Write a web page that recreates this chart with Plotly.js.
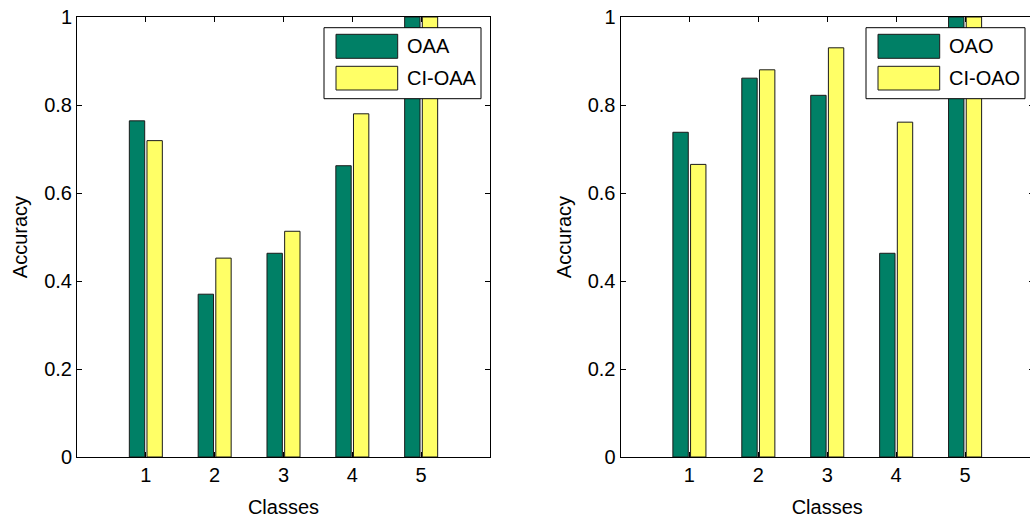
<!DOCTYPE html>
<html>
<head>
<meta charset="utf-8">
<script src="https://cdn.plot.ly/plotly-3.0.1.min.js"></script>
<style>
html, body { margin: 0; padding: 0; overflow: hidden; background: #fff; }
#chart { width: 1040px; height: 518px; }
</style>
</head>
<body>
<div id="chart"></div>
<script>
// ---- data ----
const classes = [1, 2, 3, 4, 5];
const tickLabelsX = ['1', '2', '3', '4', '5'];
const oaa   = [0.764, 0.370, 0.463, 0.662, 1.0];
const ciOaa = [0.719, 0.452, 0.513, 0.780, 1.0];
const oao   = [0.738, 0.861, 0.822, 0.463, 1.0];
const ciOao = [0.665, 0.880, 0.930, 0.761, 1.0];
const namesLeft  = ['OAA', 'CI-OAA'];
const namesRight = ['OAO', 'CI-OAO'];
const xTitle = 'Classes';
const yTitle = 'Accuracy';

// ---- style ----
const W = 1040, H = 518;
const GREEN = '#008066', YELLOW = '#FFFF66';
const FONT = 'Liberation Sans, Arial, Helvetica, sans-serif';
const px = x => x / W;
const py = y => 1 - y / H;

function barTrace(y, name, color, xa, ya) {
  return {
    type: 'bar', x: classes, y: y, name: name, xaxis: xa, yaxis: ya,
    marker: { color: color, line: { color: '#1a1a1a', width: 1 } },
    showlegend: false, hoverinfo: 'x+y+name'
  };
}

const data = [
  barTrace(oaa, namesLeft[0], GREEN, 'x', 'y'),
  barTrace(ciOaa, namesLeft[1], YELLOW, 'x', 'y'),
  barTrace(oao, namesRight[0], GREEN, 'x2', 'y2'),
  barTrace(ciOao, namesRight[1], YELLOW, 'x2', 'y2')
];

function xAxis(domain, anchor) {
  return {
    domain: domain, anchor: anchor, range: [0, 6],
    tickmode: 'array', tickvals: classes, ticktext: tickLabelsX,
    ticks: 'inside', ticklen: 5, tickcolor: '#000', mirror: 'ticks',
    showline: true, linecolor: '#000', linewidth: 1,
    showgrid: false, zeroline: false, fixedrange: true,
    tickfont: { family: FONT, size: 20, color: '#000' },
    title: { text: xTitle, font: { family: FONT, size: 20, color: '#000' } }
  };
}
function yAxis(domain, anchor) {
  return {
    domain: domain, anchor: anchor, range: [0, 1],
    tickmode: 'linear', tick0: 0, dtick: 0.2,
    ticks: 'inside', ticklen: 5, tickcolor: '#000', mirror: 'ticks',
    showline: true, linecolor: '#000', linewidth: 1,
    showgrid: false, zeroline: false, fixedrange: true,
    tickfont: { family: FONT, size: 20, color: '#000' },
    title: { text: yTitle, font: { family: FONT, size: 20, color: '#000' } }
  };
}

const yDom = [py(457), py(17)];

// legend drawn as shapes + annotations (pixel layout)
function legend(boxL, boxR, names) {
  const shapes = [
    { type: 'rect', xref: 'paper', yref: 'paper', x0: px(boxL), x1: px(boxR), y0: py(98.7), y1: py(27.7),
      fillcolor: '#fff', line: { color: '#000', width: 1 } },
    { type: 'rect', xref: 'paper', yref: 'paper', x0: px(boxL + 12), x1: px(boxL + 73.7), y0: py(58.3), y1: py(34.3),
      fillcolor: GREEN, line: { color: '#1a1a1a', width: 1 } },
    { type: 'rect', xref: 'paper', yref: 'paper', x0: px(boxL + 12), x1: px(boxL + 73.7), y0: py(90), y1: py(66.3),
      fillcolor: YELLOW, line: { color: '#1a1a1a', width: 1 } }
  ];
  const ann = [
    { xref: 'paper', yref: 'paper', x: px(boxL + 81), y: py(46.3), text: names[0], showarrow: false,
      xanchor: 'left', yanchor: 'middle', font: { family: FONT, size: 20, color: '#000' } },
    { xref: 'paper', yref: 'paper', x: px(boxL + 81), y: py(78.2), text: names[1], showarrow: false,
      xanchor: 'left', yanchor: 'middle', font: { family: FONT, size: 20, color: '#000' } }
  ];
  return { shapes, ann };
}
const lg1 = legend(324, 481, namesLeft);
const lg2 = legend(866, 1025, namesRight);

const layout = {
  width: W, height: H,
  margin: { l: 0, r: 0, t: 0, b: 0 },
  paper_bgcolor: '#fff', plot_bgcolor: '#fff',
  barmode: 'group', bargap: 0.487, bargroupgap: 0.13,
  font: { family: FONT, size: 20, color: '#000' },
  xaxis: xAxis([px(77), px(490)], 'y'),
  yaxis: yAxis(yDom, 'x'),
  xaxis2: xAxis([px(620.5), px(1034)], 'y2'),
  yaxis2: yAxis(yDom, 'x2'),
  shapes: lg1.shapes.concat(lg2.shapes),
  annotations: lg1.ann.concat(lg2.ann),
  showlegend: false
};

Plotly.newPlot('chart', data, layout, { displayModeBar: false, staticPlot: true });
</script>
</body>
</html>
